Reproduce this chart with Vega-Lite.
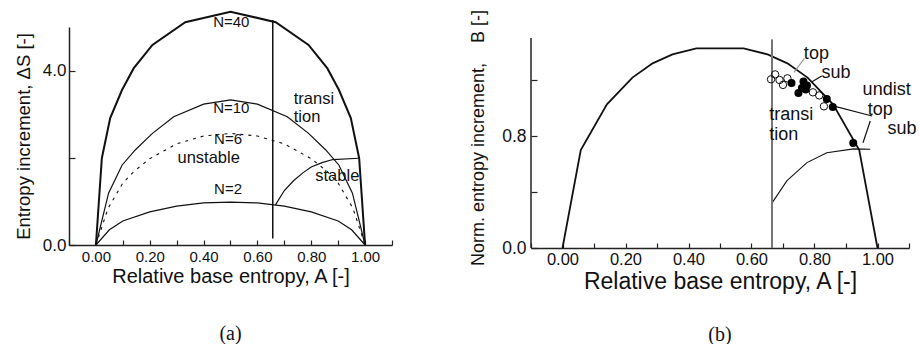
{
  "$schema": "https://vega.github.io/schema/vega-lite/v6.json",
  "padding": {"left": 14, "top": 7, "right": 0, "bottom": 0},
  "config": {
    "font": "Liberation Sans",
    "view": {"stroke": null},
    "axis": {
      "grid": false,
      "domainColor": "#222",
      "domainWidth": 1.5,
      "tickColor": "#222",
      "tickWidth": 1.2,
      "labelColor": "#111",
      "titleColor": "#111",
      "titleFontWeight": "normal",
      "labelFont": "Liberation Sans",
      "titleFont": "Liberation Sans",
      "labelFlush": false,
      "labelOverlap": false
    }
  },
  "datasets": {
    "curvesA": [
      {"curve": "N=40", "A": 0.0, "v": 0.0},
      {"curve": "N=40", "A": 0.022, "v": 1.99},
      {"curve": "N=40", "A": 0.053, "v": 2.91},
      {"curve": "N=40", "A": 0.097, "v": 3.555},
      {"curve": "N=40", "A": 0.14, "v": 4.05},
      {"curve": "N=40", "A": 0.21, "v": 4.59},
      {"curve": "N=40", "A": 0.332, "v": 5.11},
      {"curve": "N=40", "A": 0.5, "v": 5.352},
      {"curve": "N=40", "A": 0.668, "v": 5.11},
      {"curve": "N=40", "A": 0.79, "v": 4.59},
      {"curve": "N=40", "A": 0.86, "v": 4.05},
      {"curve": "N=40", "A": 0.903, "v": 3.555},
      {"curve": "N=40", "A": 0.947, "v": 2.91},
      {"curve": "N=40", "A": 0.978, "v": 1.99},
      {"curve": "N=40", "A": 1.0, "v": 0.0},
      {"curve": "N=10", "A": 0.0, "v": 0.0},
      {"curve": "N=10", "A": 0.047, "v": 1.19},
      {"curve": "N=10", "A": 0.097, "v": 1.83},
      {"curve": "N=10", "A": 0.146, "v": 2.18},
      {"curve": "N=10", "A": 0.21, "v": 2.56},
      {"curve": "N=10", "A": 0.289, "v": 2.94},
      {"curve": "N=10", "A": 0.4, "v": 3.23},
      {"curve": "N=10", "A": 0.5, "v": 3.33},
      {"curve": "N=10", "A": 0.6, "v": 3.23},
      {"curve": "N=10", "A": 0.711, "v": 2.94},
      {"curve": "N=10", "A": 0.79, "v": 2.56},
      {"curve": "N=10", "A": 0.854, "v": 2.18},
      {"curve": "N=10", "A": 0.903, "v": 1.83},
      {"curve": "N=10", "A": 0.953, "v": 1.19},
      {"curve": "N=10", "A": 1.0, "v": 0.0},
      {"curve": "N=6", "A": 0.0, "v": 0.0},
      {"curve": "N=6", "A": 0.045, "v": 0.84},
      {"curve": "N=6", "A": 0.1, "v": 1.42},
      {"curve": "N=6", "A": 0.14, "v": 1.68},
      {"curve": "N=6", "A": 0.2, "v": 1.98},
      {"curve": "N=6", "A": 0.3, "v": 2.32},
      {"curve": "N=6", "A": 0.4, "v": 2.5},
      {"curve": "N=6", "A": 0.5, "v": 2.56},
      {"curve": "N=6", "A": 0.6, "v": 2.5},
      {"curve": "N=6", "A": 0.7, "v": 2.32},
      {"curve": "N=6", "A": 0.8, "v": 1.98},
      {"curve": "N=6", "A": 0.86, "v": 1.68},
      {"curve": "N=6", "A": 0.9, "v": 1.42},
      {"curve": "N=6", "A": 0.955, "v": 0.84},
      {"curve": "N=6", "A": 1.0, "v": 0.0},
      {"curve": "N=2", "A": 0.0, "v": 0.0},
      {"curve": "N=2", "A": 0.05, "v": 0.35},
      {"curve": "N=2", "A": 0.1, "v": 0.55},
      {"curve": "N=2", "A": 0.2, "v": 0.76},
      {"curve": "N=2", "A": 0.3, "v": 0.89},
      {"curve": "N=2", "A": 0.4, "v": 0.965},
      {"curve": "N=2", "A": 0.5, "v": 0.985},
      {"curve": "N=2", "A": 0.6, "v": 0.965},
      {"curve": "N=2", "A": 0.7, "v": 0.89},
      {"curve": "N=2", "A": 0.8, "v": 0.76},
      {"curve": "N=2", "A": 0.9, "v": 0.55},
      {"curve": "N=2", "A": 0.95, "v": 0.35},
      {"curve": "N=2", "A": 1.0, "v": 0.0},
      {"curve": "stable", "A": 0.667, "v": 0.92},
      {"curve": "stable", "A": 0.7, "v": 1.25},
      {"curve": "stable", "A": 0.735, "v": 1.48},
      {"curve": "stable", "A": 0.77, "v": 1.66},
      {"curve": "stable", "A": 0.8, "v": 1.79},
      {"curve": "stable", "A": 0.84, "v": 1.89},
      {"curve": "stable", "A": 0.88, "v": 1.96},
      {"curve": "stable", "A": 0.976, "v": 1.99}
    ],
    "boundaryA": [
      {"A": 0.657, "v": 0.15, "v2": 5.16}
    ],
    "labelsA": [
      {"kind": "curve", "A": 0.503, "v": 5.12, "text": "N=40"},
      {"kind": "curve", "A": 0.503, "v": 3.135, "text": "N=10"},
      {"kind": "curve", "A": 0.491, "v": 2.44, "text": "N=6"},
      {"kind": "curve", "A": 0.491, "v": 1.28, "text": "N=2"},
      {"kind": "zone", "A": 0.419, "v": 2.0, "text": "unstable"},
      {"kind": "side", "A": 0.735, "v": 3.35, "text": "transi"},
      {"kind": "side", "A": 0.735, "v": 2.93, "text": "tion"},
      {"kind": "side", "A": 0.815, "v": 1.59, "text": "stable"}
    ],
    "envelopeB": [
      {"A": 0.0, "v": 0.0},
      {"A": 0.058, "v": 0.7},
      {"A": 0.141, "v": 1.026},
      {"A": 0.222, "v": 1.217},
      {"A": 0.286, "v": 1.319},
      {"A": 0.349, "v": 1.383},
      {"A": 0.425, "v": 1.426},
      {"A": 0.575, "v": 1.426},
      {"A": 0.651, "v": 1.383},
      {"A": 0.714, "v": 1.319},
      {"A": 0.778, "v": 1.217},
      {"A": 0.859, "v": 1.026},
      {"A": 0.942, "v": 0.7},
      {"A": 1.0, "v": 0.0}
    ],
    "stableB": [
      {"A": 0.666, "v": 0.324},
      {"A": 0.712, "v": 0.479},
      {"A": 0.776, "v": 0.61},
      {"A": 0.839, "v": 0.681},
      {"A": 0.924, "v": 0.708},
      {"A": 0.977, "v": 0.705}
    ],
    "boundaryB": [
      {"A": 0.665, "v": 0.0, "v2": 1.49}
    ],
    "frameB": [
      {"A": -0.1, "v": 0.0, "v2": 1.5}
    ],
    "leadersB": [
      {"tone": "grey", "A": 0.735, "v": 1.255, "A2": 0.768, "v2": 1.355},
      {"tone": "black", "A": 0.792, "v": 1.188, "A2": 0.823, "v2": 1.229},
      {"tone": "black", "A": 0.85, "v": 1.02, "A2": 0.983, "v2": 0.943},
      {"tone": "black", "A": 0.954, "v": 0.752, "A2": 0.977, "v2": 0.907}
    ],
    "runsB": [
      {"group": "open", "A": 0.675, "v": 1.24},
      {"group": "open", "A": 0.662, "v": 1.205},
      {"group": "open", "A": 0.689, "v": 1.2},
      {"group": "open", "A": 0.7, "v": 1.165},
      {"group": "open", "A": 0.714, "v": 1.212},
      {"group": "open", "A": 0.795, "v": 1.112},
      {"group": "open", "A": 0.815, "v": 1.09},
      {"group": "open", "A": 0.83, "v": 1.012},
      {"group": "filled", "A": 0.727, "v": 1.179},
      {"group": "filled", "A": 0.765, "v": 1.19},
      {"group": "filled", "A": 0.776, "v": 1.16},
      {"group": "filled", "A": 0.76, "v": 1.143},
      {"group": "filled", "A": 0.749, "v": 1.108},
      {"group": "filled", "A": 0.772, "v": 1.133},
      {"group": "filled", "A": 0.839, "v": 1.064},
      {"group": "filled", "A": 0.858, "v": 1.007},
      {"group": "filled", "A": 0.923, "v": 0.75}
    ],
    "labelsB": [
      {"kind": "center", "A": 0.806, "v": 1.383, "text": "top"},
      {"kind": "center", "A": 0.868, "v": 1.252, "text": "sub"},
      {"kind": "left", "A": 0.656, "v": 0.95, "text": "transi"},
      {"kind": "left", "A": 0.656, "v": 0.81, "text": "tion"},
      {"kind": "center", "A": 1.029, "v": 1.127, "text": "undist"},
      {"kind": "center", "A": 1.009, "v": 0.985, "text": "top"},
      {"kind": "center", "A": 1.078, "v": 0.852, "text": "sub"}
    ]
  },
  "spacing": 76,
  "hconcat": [
    {
      "width": 323,
      "height": 218,
      "title": {"text": "(a)", "orient": "bottom", "anchor": "middle", "font": "Liberation Serif", "fontSize": 20, "fontWeight": "normal", "color": "#111", "offset": 38},
      "encoding": {
        "x": {
          "field": "A", "type": "quantitative",
          "scale": {"domain": [-0.1, 1.1], "nice": false, "zero": false},
          "axis": {
            "title": "Relative base entropy, A [-]",
            "values": [-0.1, 0, 0.1, 0.2, 0.3, 0.4, 0.5, 0.6, 0.7, 0.8, 0.9, 1.0, 1.1],
            "labelExpr": "datum.value > -0.05 && datum.value < 1.05 && round(datum.value * 10) % 2 == 0 ? format(datum.value, '.2f') : ''",
            "tickSize": -5, "labelPadding": 9, "labelFontSize": 15, "titleFontSize": 20, "titlePadding": 2
          }
        },
        "y": {
          "field": "v", "type": "quantitative",
          "scale": {"domain": [0, 5], "nice": false},
          "axis": {
            "title": "Entropy increment, \u0394S [-]",
            "values": [0, 2, 4],
            "labelExpr": "datum.value == 2 ? '' : format(datum.value, '.1f')",
            "tickSize": -6, "labelPadding": 9, "labelFontSize": 17, "titleFontSize": 18.5, "titlePadding": 9
          }
        }
      },
      "layer": [
        {
          "data": {"name": "curvesA"},
          "transform": [{"filter": "datum.curve == 'N=10' || datum.curve == 'N=2' || datum.curve == 'stable'"}],
          "mark": {"type": "line", "color": "#111", "strokeWidth": 1.2},
          "encoding": {"detail": {"field": "curve"}}
        },
        {
          "data": {"name": "curvesA"},
          "transform": [{"filter": "datum.curve == 'N=40'"}],
          "mark": {"type": "line", "color": "#111", "strokeWidth": 2}
        },
        {
          "data": {"name": "curvesA"},
          "transform": [{"filter": "datum.curve == 'N=6'"}],
          "mark": {"type": "line", "color": "#111", "strokeWidth": 1.1, "strokeDash": [3, 5]}
        },
        {
          "data": {"name": "boundaryA"},
          "mark": {"type": "rule", "color": "#111", "strokeWidth": 1.5},
          "encoding": {"y2": {"field": "v2"}}
        },
        {
          "data": {"name": "labelsA"},
          "transform": [{"filter": "datum.kind == 'curve'"}],
          "mark": {"type": "text", "align": "center", "baseline": "middle", "fontSize": 15, "color": "#111"},
          "encoding": {"text": {"field": "text"}}
        },
        {
          "data": {"name": "labelsA"},
          "transform": [{"filter": "datum.kind == 'zone'"}],
          "mark": {"type": "text", "align": "center", "baseline": "middle", "fontSize": 16.5, "color": "#111"},
          "encoding": {"text": {"field": "text"}}
        },
        {
          "data": {"name": "labelsA"},
          "transform": [{"filter": "datum.kind == 'side'"}],
          "mark": {"type": "text", "align": "left", "baseline": "middle", "fontSize": 16.5, "color": "#111"},
          "encoding": {"text": {"field": "text"}}
        }
      ]
    },
    {
      "width": 378,
      "height": 221,
      "title": {"text": "(b)", "orient": "bottom", "anchor": "middle", "font": "Liberation Serif", "fontSize": 20, "fontWeight": "normal", "color": "#111", "offset": 31},
      "encoding": {
        "x": {
          "field": "A", "type": "quantitative",
          "scale": {"domain": [-0.1, 1.1], "nice": false, "zero": false},
          "axis": {
            "title": "Relative base entropy, A [-]",
            "values": [-0.1, 0, 0.1, 0.2, 0.3, 0.4, 0.5, 0.6, 0.7, 0.8, 0.9, 1.0, 1.1],
            "labelExpr": "datum.value > -0.05 && datum.value < 1.05 && round(datum.value * 10) % 2 == 0 ? format(datum.value, '.2f') : ''",
            "tickSize": -5, "labelPadding": 8, "labelFontSize": 16.5, "titleFontSize": 23, "titlePadding": 3
          }
        },
        "y": {
          "field": "v", "type": "quantitative",
          "scale": {"domain": [0, 1.5786], "nice": false},
          "axis": {
            "title": "Norm. entropy increment,\u00a0\u00a0\u00a0\u00a0B [-]",
            "values": [0, 0.4, 0.8, 1.2],
            "labelExpr": "datum.value == 0 || abs(datum.value - 0.8) < 0.01 ? format(datum.value, '.1f') : ''",
            "domain": false,
            "tickSize": -6, "labelPadding": 11, "labelFontSize": 17.5, "titleFontSize": 18, "titlePadding": 14
          }
        }
      },
      "layer": [
        {
          "data": {"name": "frameB"},
          "mark": {"type": "rule", "color": "#222", "strokeWidth": 1.5},
          "encoding": {"y2": {"field": "v2"}}
        },
        {
          "data": {"name": "envelopeB"},
          "mark": {"type": "line", "color": "#111", "strokeWidth": 1.8}
        },
        {
          "data": {"name": "stableB"},
          "mark": {"type": "line", "color": "#111", "strokeWidth": 1.1}
        },
        {
          "data": {"name": "boundaryB"},
          "mark": {"type": "rule", "color": "#777", "strokeWidth": 2},
          "encoding": {"y2": {"field": "v2"}}
        },
        {
          "data": {"name": "leadersB"},
          "transform": [{"filter": "datum.tone == 'grey'"}],
          "mark": {"type": "rule", "color": "#999", "strokeWidth": 1.2},
          "encoding": {"x2": {"field": "A2"}, "y2": {"field": "v2"}}
        },
        {
          "data": {"name": "leadersB"},
          "transform": [{"filter": "datum.tone == 'black'"}],
          "mark": {"type": "rule", "color": "#111", "strokeWidth": 1.2},
          "encoding": {"x2": {"field": "A2"}, "y2": {"field": "v2"}}
        },
        {
          "data": {"name": "runsB"},
          "transform": [{"filter": "datum.group == 'open'"}],
          "mark": {"type": "point", "shape": "circle", "filled": false, "color": "#111", "strokeWidth": 1, "size": 55, "opacity": 1}
        },
        {
          "data": {"name": "runsB"},
          "transform": [{"filter": "datum.group == 'filled'"}],
          "mark": {"type": "point", "shape": "circle", "filled": true, "color": "#000", "size": 64, "opacity": 1}
        },
        {
          "data": {"name": "labelsB"},
          "transform": [{"filter": "datum.kind == 'center'"}],
          "mark": {"type": "text", "align": "center", "baseline": "middle", "fontSize": 18, "color": "#111"},
          "encoding": {"text": {"field": "text"}}
        },
        {
          "data": {"name": "labelsB"},
          "transform": [{"filter": "datum.kind == 'left'"}],
          "mark": {"type": "text", "align": "left", "baseline": "middle", "fontSize": 18, "color": "#111"},
          "encoding": {"text": {"field": "text"}}
        }
      ]
    }
  ]
}
